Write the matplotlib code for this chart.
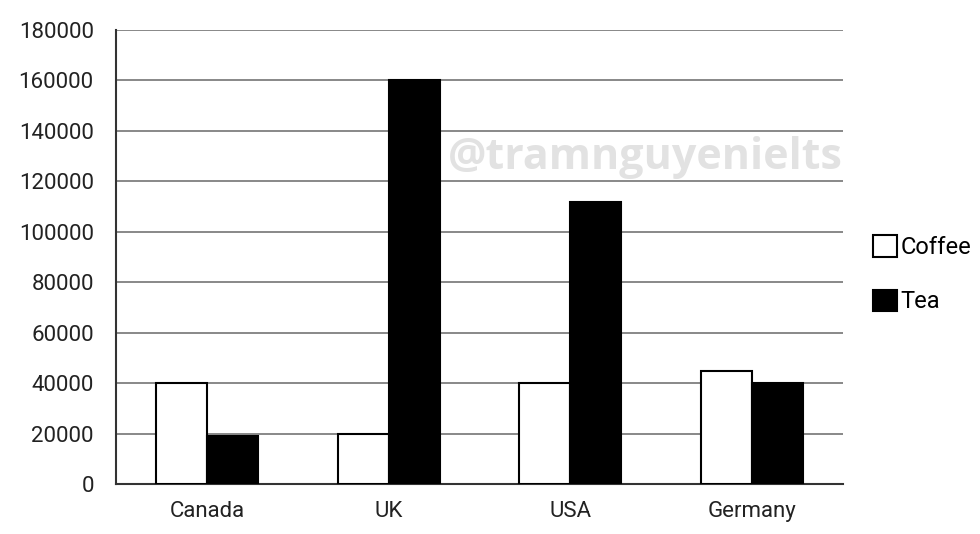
import numpy as np
from matplotlib import pyplot as plt
from matplotlib.patches import Patch

countries = ['Canada', 'UK', 'USA', 'Germany']
coffee = [40000, 20000, 40000, 45000]
tea = [19000, 160000, 112000, 40000]
y_ticks = list(range(0, 180001, 20000))

plt.rcParams['font.family'] = ['Roboto', 'DejaVu Sans']

fig = plt.figure(figsize=(9.8, 5.34), dpi=100)
ax = fig.add_axes([0.1184, 0.0936, 0.7418, 0.8502])

x = np.arange(len(countries))
w = 0.28
ax.bar(x - w / 2, coffee, w, color='white', edgecolor='black', linewidth=1.5, zorder=3, label='Coffee')
ax.bar(x + w / 2, tea, w, color='black', edgecolor='black', linewidth=1.5, zorder=3, label='Tea')

ax.set_xlim(-0.5, len(countries) - 0.5)
ax.set_ylim(0, 180000)
ax.set_yticks(y_ticks)
ax.set_yticklabels([str(v) for v in y_ticks])
ax.set_xticks(x)
ax.set_xticklabels(countries)
ax.tick_params(axis='both', labelsize=16, colors='#222222', length=0)
ax.tick_params(axis='y', pad=16)
ax.tick_params(axis='x', pad=12)
# small tick left of the axis at zero
ax.set_yticks([0], minor=True)
ax.tick_params(axis='y', which='minor', length=7, width=1.5, color='#333333')

ax.grid(axis='y', color='#888888', linewidth=1.4, zorder=0)
for s in ['top', 'right']:
    ax.spines[s].set_visible(False)
ax.spines['left'].set_color('#333333')
ax.spines['left'].set_linewidth(1.5)
ax.spines['bottom'].set_color('#333333')
ax.spines['bottom'].set_linewidth(1.5)

# watermark
ax.text(1.0, 0.72, '@tramnguyenielts', transform=ax.transAxes, ha='right', va='center',
        fontsize=31, fontweight='bold', color='#e2e2e2', family=['Open Sans', 'DejaVu Sans'], zorder=2)

handles = [Patch(facecolor='white', edgecolor='black', linewidth=1.5, label='Coffee'),
           Patch(facecolor='black', edgecolor='black', linewidth=1.5, label='Tea')]
fig.legend(handles=handles, loc='center left', bbox_to_anchor=(0.891, 0.486), frameon=False,
           fontsize=17, handlelength=1.0, handleheight=1.0, handletextpad=0.15, labelspacing=1.3,
           borderaxespad=0, borderpad=0)

fig.savefig('out.png', dpi=100)
